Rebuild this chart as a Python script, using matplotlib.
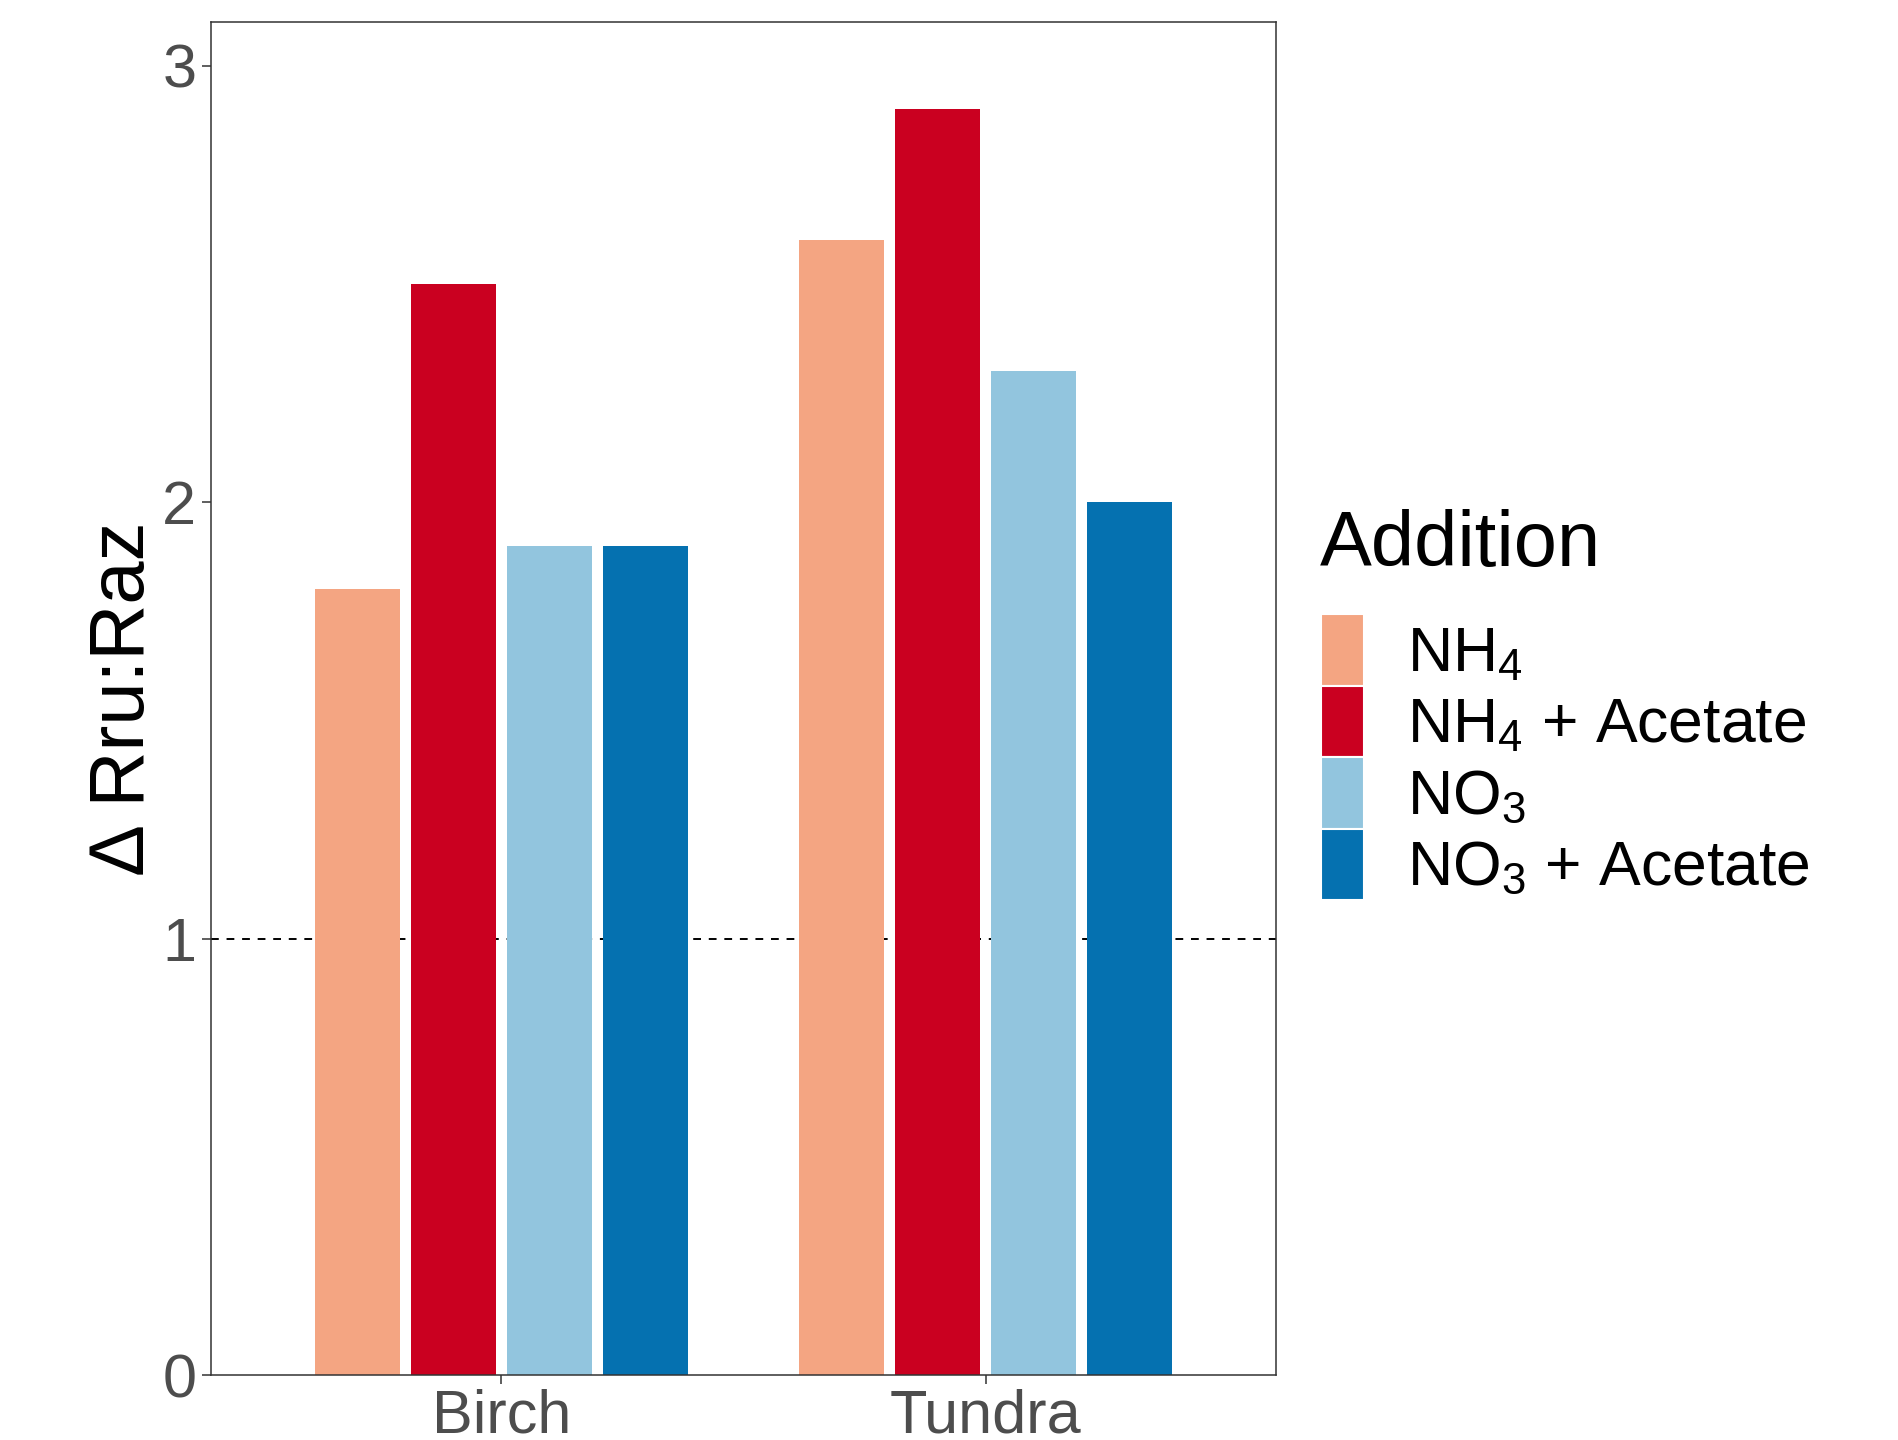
import numpy as np
import matplotlib
matplotlib.use("Agg")
import matplotlib.pyplot as plt
from matplotlib.patches import Rectangle

plt.rcParams['font.family'] = ['Liberation Sans', 'DejaVu Sans']
plt.rcParams['mathtext.default'] = 'regular'

# data
sites = ["Birch", "Tundra"]
additions = ["NH$_4$", "NH$_4$ + Acetate", "NO$_3$", "NO$_3$ + Acetate"]
colors = ["#F4A582", "#CA0020", "#92C5DE", "#0571B0"]
values = {
    "NH$_4$": [1.8, 2.6],
    "NH$_4$ + Acetate": [2.5, 2.9],
    "NO$_3$": [1.9, 2.3],
    "NO$_3$ + Acetate": [1.9, 2.0],
}
y_ticks = [0, 1, 2, 3]

W, H = 1899, 1440
fig = plt.figure(figsize=(W / 100, H / 100), dpi=100)
ax = fig.add_axes([211 / W, 1 - 1375 / H, (1276 - 211) / W, (1375 - 22) / H])

# dashed reference line behind the bars
ax.axhline(1, color="black", lw=1.4, ls=(0, (4, 4)), zorder=1)

x = np.arange(1, len(sites) + 1)
step = 0.198
bw = 0.175
for i, (lab, col) in enumerate(zip(additions, colors)):
    off = (i - 1.5) * step
    ax.bar(x + off, values[lab], width=bw, color=col, zorder=2)

ax.set_xlim(0.4, 2.6)
ax.set_ylim(0, 3.1)
ax.set_xticks(x)
ax.set_xticklabels(sites)
ax.set_yticks(y_ticks)
ax.tick_params(axis="both", labelsize=44, labelcolor="#4D4D4D", color="#333333",
               length=6.5, width=1.1, pad=4)
ax.tick_params(axis="x", pad=3)
for sp in ax.spines.values():
    sp.set_color("#333333")
    sp.set_linewidth(1.1)
ax.set_ylabel("\u0394 Rru:Raz", fontsize=56, labelpad=2)

# legend
fig.text(1320 / W, 1 - 566 / H, "Addition", fontsize=56, ha="left", va="baseline")
key_top = 614
key_h = 71.5
for i, (lab, col) in enumerate(zip(additions, colors)):
    top = key_top + i * key_h
    fig.add_artist(Rectangle((1321 / W, 1 - (top + key_h) / H), 43 / W, key_h / H,
                             transform=fig.transFigure, facecolor=col,
                             edgecolor="white", lw=1.5))
    fig.text(1407 / W, 1 - (top + key_h / 2 + 21) / H, lab, fontsize=45,
             ha="left", va="baseline")

fig.savefig("out.png", dpi=100)
